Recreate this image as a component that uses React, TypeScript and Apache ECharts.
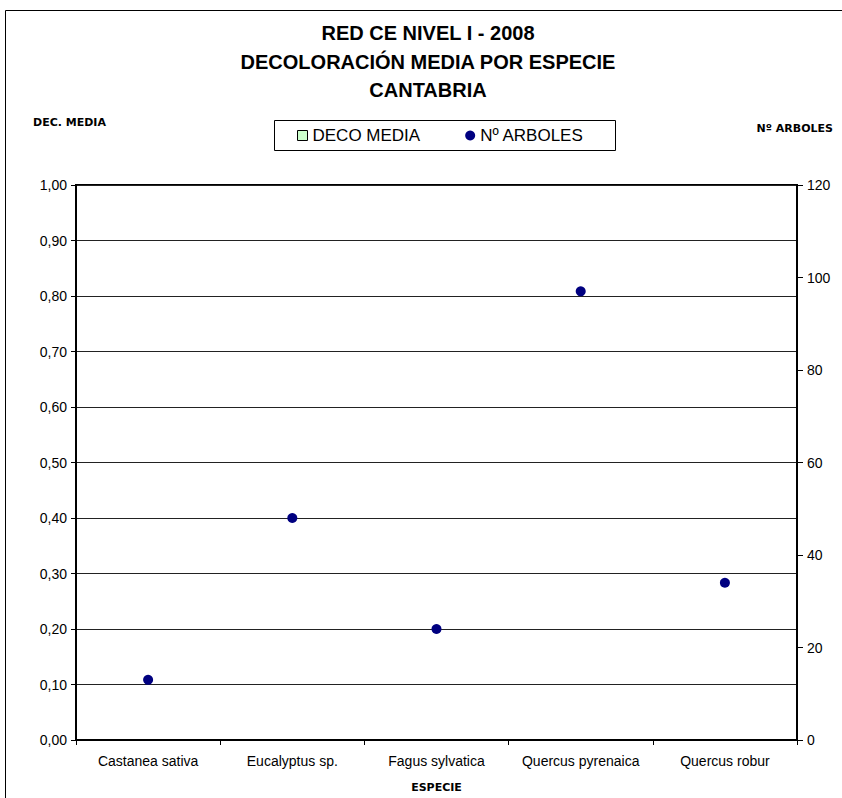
import React, { useEffect, useRef } from "react";
import * as echarts from "echarts";

const categories = [
  "Castanea sativa",
  "Eucalyptus sp.",
  "Fagus sylvatica",
  "Quercus pyrenaica",
  "Quercus robur",
];
const decoMedia: (number | null)[] = [null, null, null, null, null];
const numArboles = [13, 48, 24, 97, 34];

const titleLines = ["RED CE NIVEL I - 2008", "DECOLORACIÓN MEDIA POR ESPECIE", "CANTABRIA"];
const leftAxisName = "DEC. MEDIA";
const rightAxisName = "Nº ARBOLES";
const xAxisName = "ESPECIE";

const FONT = "'Liberation Sans', Arial, sans-serif";
const SMALL_BOLD = "'DejaVu Sans', 'Liberation Sans', sans-serif";

export default function App() {
  const ref = useRef<HTMLDivElement>(null);
  useEffect(() => {
    document.body.style.margin = "0";
    if (!ref.current) return;
    const chart = echarts.init(ref.current, undefined, { renderer: "svg" });
    chart.setOption({
      animation: false,
      backgroundColor: "#ffffff",
      title: {
        text: titleLines.join("\n"),
        left: 428,
        textAlign: "center",
        top: 19,
        padding: 0,
        textStyle: {
          fontFamily: FONT,
          fontWeight: "bold",
          fontSize: 20,
          lineHeight: 28.5,
          color: "#000",
        },
      },
      legend: {
        left: 297,
        top: 127,
        padding: 0,
        itemWidth: 10,
        itemHeight: 10,
        itemGap: 45,
        textStyle: { fontFamily: FONT, fontSize: 17, color: "#000" },
        data: [
          {
            name: "DECO MEDIA",
            icon: "rect",
            itemStyle: { color: "#ccffcc", borderColor: "#000", borderWidth: 1 },
          },
          { name: "Nº ARBOLES", icon: "circle", itemStyle: { color: "#000080", opacity: 1 } },
        ],
      },
      grid: {
        left: 76,
        right: 45,
        top: 185,
        bottom: 51,
        show: true,
        borderColor: "#000",
        borderWidth: 2,
        backgroundColor: "#fff",
      },
      xAxis: {
        type: "category",
        data: categories,
        boundaryGap: true,
        axisLine: { show: true, lineStyle: { color: "#000", width: 2 } },
        axisTick: {
          show: true,
          interval: 0,
          alignWithLabel: false,
          length: 5,
          lineStyle: { color: "#000" },
        },
        axisLabel: {
          interval: 0,
          hideOverlap: false,
          fontFamily: FONT,
          fontSize: 14,
          color: "#000",
          margin: 14,
        },
        splitLine: { show: false },
        name: xAxisName,
        nameLocation: "middle",
        nameGap: 42,
        nameTextStyle: { fontFamily: SMALL_BOLD, fontWeight: "bold", fontSize: 11, color: "#000" },
      },
      yAxis: [
        {
          type: "value",
          min: 0,
          max: 1,
          interval: 0.1,
          position: "left",
          axisLine: { show: true, lineStyle: { color: "#000", width: 2 } },
          axisTick: { show: true, length: 5, lineStyle: { color: "#000" } },
          axisLabel: {
            fontFamily: FONT,
            fontSize: 14,
            color: "#000",
            margin: 9,
            formatter: (v: number) => v.toFixed(2).replace(".", ","),
          },
          splitLine: { show: true, lineStyle: { color: "#222", width: 1 } },
        },
        {
          type: "value",
          min: 0,
          max: 120,
          interval: 20,
          position: "right",
          axisLine: { show: true, lineStyle: { color: "#000", width: 2 } },
          axisTick: { show: true, length: 6, lineStyle: { color: "#000" } },
          axisLabel: { fontFamily: FONT, fontSize: 14, color: "#000", margin: 10 },
          splitLine: { show: false },
        },
      ],
      series: [
        {
          name: "DECO MEDIA",
          type: "bar",
          yAxisIndex: 0,
          data: decoMedia,
          itemStyle: { color: "#ccffcc", borderColor: "#000", borderWidth: 1 },
        },
        {
          name: "Nº ARBOLES",
          type: "scatter",
          yAxisIndex: 1,
          data: numArboles,
          symbol: "circle",
          symbolSize: 10,
          itemStyle: { color: "#000080", opacity: 1 },
        },
      ],
      graphic: [
        {
          type: "rect",
          shape: { x: 5.5, y: 10.5, width: 1000, height: 1000 },
          style: { fill: "none", stroke: "#000", lineWidth: 1 },
          silent: true,
          z: -10,
        },
        {
          type: "rect",
          shape: { x: 274.5, y: 120.5, width: 341, height: 30 },
          style: { fill: "#fff", stroke: "#000", lineWidth: 1 },
          silent: true,
          z: -1,
        },
        {
          type: "text",
          x: 33,
          y: 122,
          style: {
            text: leftAxisName,
            fontFamily: SMALL_BOLD,
            fontWeight: "bold",
            fontSize: 11,
            fill: "#000",
            align: "left",
            verticalAlign: "middle",
          },
        },
        {
          type: "text",
          x: 833,
          y: 128,
          style: {
            text: rightAxisName,
            fontFamily: SMALL_BOLD,
            fontWeight: "bold",
            fontSize: 11,
            fill: "#000",
            align: "right",
            verticalAlign: "middle",
          },
        },
      ],
    });
    return () => chart.dispose();
  }, []);
  return <div ref={ref} style={{ width: 842, height: 798 }} />;
}
